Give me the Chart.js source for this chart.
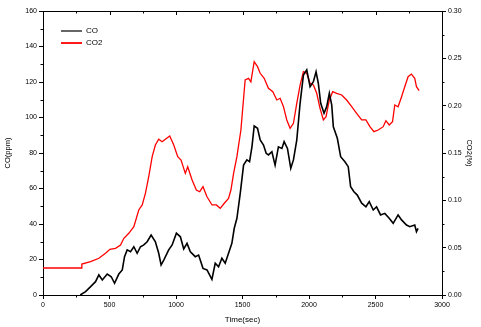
<!DOCTYPE html>
<html>
<head>
<meta charset="utf-8">
<script src="https://cdn.jsdelivr.net/npm/chart.js@4.4.1/dist/chart.umd.min.js"></script>
<style>
  html, body { margin: 0; padding: 0; background: #fff; }
  #wrap { width: 481px; height: 327px; }
</style>
</head>
<body>
<div id="wrap"><canvas id="c" width="481" height="327"></canvas></div>
<script>
// ---- data ----
const coTime = [280,320,358,395,420,446,483,513,538,570,596,613,633,658,683,708,733,758,783,813,845,870,888,908,945,971,1003,1033,1058,1083,1108,1145,1170,1203,1233,1270,1295,1320,1345,1370,1395,1420,1438,1458,1483,1508,1533,1553,1571,1588,1613,1633,1658,1678,1695,1721,1745,1770,1796,1813,1838,1863,1883,1908,1933,1958,1983,2008,2033,2053,2070,2088,2113,2133,2153,2171,2183,2213,2238,2270,2295,2313,2338,2363,2396,2428,2453,2483,2508,2538,2570,2603,2633,2670,2696,2733,2758,2795,2808,2820];
const coPpm = [0,1.9,4.7,7.5,11.3,8.5,11.8,10.3,6.6,11.8,14.1,21.6,25.4,24.4,27.2,23.5,27.2,28.2,30.0,33.8,30.0,23.5,16.9,19.7,25.4,28.2,34.8,32.8,25.9,29.1,24.4,21.6,22.5,15.0,14.1,8.8,17.9,15.9,20.7,17.9,23.5,29.1,37.6,43.2,57.3,73.2,76.1,75.1,83.5,95.2,93.9,87.3,84.5,79.8,78.9,80.7,73.2,83.5,82.6,86.4,82.6,71.4,76.1,87.3,108.0,123.9,126.8,117.4,120.2,125.8,119.3,108.0,102.4,106.1,113.6,107.0,94.8,88.3,77.9,75.1,72.3,61.0,58.2,56.3,51.7,49.7,52.6,47.9,49.7,45.1,46.0,43.2,40.4,45.1,42.3,39.4,38.5,39.4,35.7,37.5];

const co2Time = [0,290,292,358,420,470,503,545,583,608,645,683,720,746,770,795,821,845,870,896,920,953,983,1013,1038,1070,1088,1121,1153,1178,1203,1233,1271,1303,1333,1363,1395,1413,1433,1458,1488,1520,1545,1563,1588,1613,1633,1663,1695,1728,1758,1783,1808,1833,1858,1883,1908,1933,1958,1983,2008,2033,2058,2083,2108,2128,2153,2178,2208,2246,2283,2321,2358,2396,2428,2458,2488,2520,2558,2578,2603,2628,2645,2670,2696,2720,2745,2770,2795,2808,2828];
const co2Pct = [0.0285,0.0285,0.0327,0.0352,0.0388,0.0440,0.0483,0.0493,0.0528,0.0599,0.0652,0.0721,0.0898,0.0951,0.1074,0.1250,0.1461,0.1584,0.1645,0.1619,0.1645,0.1680,0.1584,0.1461,0.1426,0.1285,0.1355,0.1215,0.1109,0.1091,0.1144,0.1038,0.0951,0.0951,0.0916,0.0969,0.1021,0.1109,0.1285,0.1461,0.1743,0.2271,0.2289,0.2253,0.2464,0.2412,0.2342,0.2289,0.2183,0.2148,0.2060,0.2078,0.1989,0.1849,0.1761,0.1814,0.2025,0.2218,0.2359,0.2342,0.2236,0.2218,0.2131,0.1972,0.1849,0.1883,0.2060,0.2148,0.2131,0.2113,0.2060,0.1989,0.1919,0.1849,0.1849,0.1778,0.1725,0.1743,0.1778,0.1841,0.1796,0.1831,0.2007,0.1989,0.2095,0.2200,0.2306,0.2334,0.2289,0.2200,0.2158];

const seriesLabels = ['CO', 'CO2'];
const xTitle = 'Time(sec)';
const yTitle = 'CO(ppm)';
const y1Title = 'CO2(%)';
const xRange = [0, 3000, 500];
const yRange = [0, 160, 20];
const y1Range = [0, 0.30, 0.05];

// ---- helpers ----
const zip = (xs, ys) => xs.map((x, i) => ({ x: x, y: ys[i] }));
const FONT = 'Liberation Sans, Arial, sans-serif';

const frameAndMinor = {
  id: 'frameAndMinor',
  afterDraw(chart) {
    const { ctx, chartArea: a, scales } = chart;
    ctx.save();
    ctx.strokeStyle = '#000';
    ctx.lineWidth = 1;
    ctx.beginPath();
    ctx.moveTo(a.left, a.top + 0.5);
    ctx.lineTo(a.right, a.top + 0.5);
    ctx.stroke();
    ctx.beginPath();
    for (let v = xRange[0]; v <= xRange[1]; v += xRange[2] / 2) {
      const px = Math.round(scales.x.getPixelForValue(v)) + 0.5;
      const major = (v % xRange[2]) === 0;
      if (!major) { ctx.moveTo(px, a.bottom); ctx.lineTo(px, a.bottom + 2.5); }
      ctx.moveTo(px, a.top); ctx.lineTo(px, a.top + (major ? 4 : 2.5));
    }
    for (let v = yRange[0] + yRange[2] / 2; v < yRange[1]; v += yRange[2]) {
      const py = Math.round(scales.y.getPixelForValue(v)) + 0.5;
      ctx.moveTo(a.left - 2.5, py); ctx.lineTo(a.left, py);
    }
    for (let v = y1Range[0] + y1Range[2] / 2; v < y1Range[1]; v += y1Range[2]) {
      const py = Math.round(scales.y1.getPixelForValue(v)) + 0.5;
      ctx.moveTo(a.right, py); ctx.lineTo(a.right + 2.5, py);
    }
    ctx.stroke();
    ctx.restore();
  }
};

const insideLegend = {
  id: 'insideLegend',
  afterDraw(chart) {
    const { ctx, chartArea: a } = chart;
    ctx.save();
    ctx.font = '8px ' + FONT;
    ctx.textBaseline = 'middle';
    ctx.textAlign = 'left';
    chart.data.datasets.forEach((ds, i) => {
      const y = a.top + 20 + i * 12;
      ctx.strokeStyle = ds.borderColor;
      ctx.lineWidth = i === 0 ? 1.2 : 1.8;
      ctx.beginPath();
      ctx.moveTo(a.left + 18, y);
      ctx.lineTo(a.left + 39, y);
      ctx.stroke();
      ctx.fillStyle = '#000';
      ctx.fillText(ds.label, a.left + 43, y);
    });
    ctx.restore();
  }
};

const tickFont = { family: FONT, size: 7 };
const titleFont = { family: FONT, size: 8 };

new Chart(document.getElementById('c'), {
  type: 'line',
  data: {
    datasets: [
      { label: seriesLabels[0], data: zip(coTime, coPpm), yAxisID: 'y',
        borderColor: '#000000', borderWidth: 1.6, pointRadius: 0, tension: 0 },
      { label: seriesLabels[1], data: zip(co2Time, co2Pct), yAxisID: 'y1',
        borderColor: '#ff0000', borderWidth: 1.3, pointRadius: 0, tension: 0 }
    ]
  },
  options: {
    responsive: false,
    animation: false,
    devicePixelRatio: 1,
    layout: { padding: { top: 11, left: 0, right: 0, bottom: 0 } },
    plugins: { legend: { display: false }, tooltip: { enabled: false } },
    scales: {
      x: {
        type: 'linear', min: xRange[0], max: xRange[1],
        ticks: { stepSize: xRange[2], font: tickFont, color: '#000', padding: 2, maxRotation: 0,
                 callback: v => String(v) },
        grid: { drawOnChartArea: false, tickLength: 4, color: '#000' },
        border: { color: '#000', width: 1 },
        title: { display: true, text: xTitle, font: titleFont, color: '#000', padding: { top: 0, bottom: 2 } },
        afterFit: s => { s.height = 32; }
      },
      y: {
        type: 'linear', position: 'left', min: yRange[0], max: yRange[1],
        ticks: { stepSize: yRange[2], font: tickFont, color: '#000', padding: 2 },
        grid: { drawOnChartArea: false, tickLength: 4, color: '#000' },
        border: { color: '#000', width: 1 },
        title: { display: true, text: yTitle, font: { family: FONT, size: 7.5 }, color: '#000', padding: { top: 3, bottom: 0 } },
        afterFit: s => { s.width = 43; }
      },
      y1: {
        type: 'linear', position: 'right', min: y1Range[0], max: y1Range[1],
        ticks: { stepSize: y1Range[2], font: tickFont, color: '#000', padding: 2,
                 callback: v => Number(v).toFixed(2) },
        grid: { drawOnChartArea: false, tickLength: 4, color: '#000' },
        border: { color: '#000', width: 1 },
        title: { display: true, text: y1Title, font: { family: FONT, size: 7.5 }, color: '#000', padding: { top: 7, bottom: 0 } },
        afterFit: s => { s.width = 39; }
      }
    }
  },
  plugins: [frameAndMinor, insideLegend]
});
</script>
</body>
</html>
